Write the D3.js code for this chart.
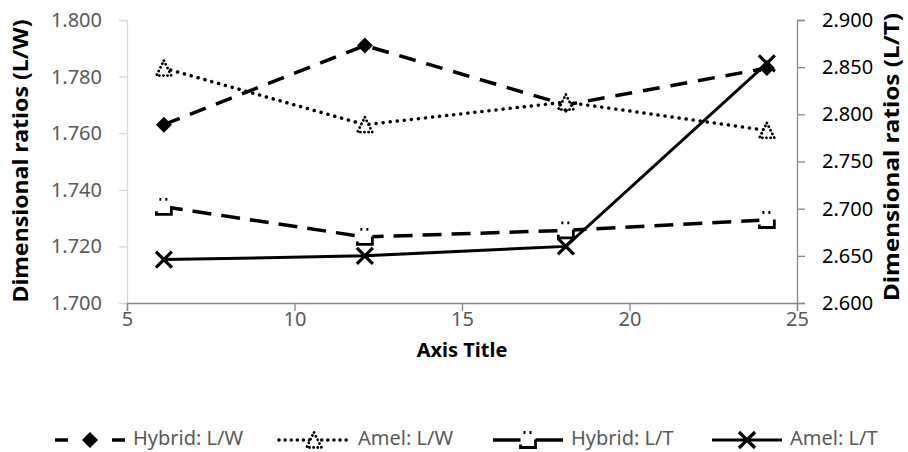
<!DOCTYPE html>
<html>
<head>
<meta charset="utf-8">
<script src="https://cdn.jsdelivr.net/npm/d3@7"></script>
<style>
  body { margin: 0; background: #fff; }
  text { font-family: "Noto Sans", "Open Sans", sans-serif; }
</style>
</head>
<body>
<script>
// values
var hours = [6.1, 12.1, 18.1, 24.1];
var hybridLW = [1.763, 1.791, 1.770, 1.783];
var amelLW   = [1.783, 1.763, 1.771, 1.761];
var hybridLT = [2.702, 2.670, 2.677, 2.688];
var amelLT   = [2.646, 2.650, 2.660, 2.854];

var xTicks = [5, 10, 15, 20, 25];
var leftTicks = [1.700, 1.720, 1.740, 1.760, 1.780, 1.800];
var rightTicks = [2.600, 2.650, 2.700, 2.750, 2.800, 2.850, 2.900];

var seriesNames = ["Hybrid: L/W", "Amel: L/W", "Hybrid: L/T", "Amel: L/T"];

var W = 908, H = 452;
var margins = { top: 20, bottom: 149, left: 127, right: 111 };

var svg = d3.select("body").append("svg")
  .attr("width", W).attr("height", H);

var xscale = d3.scaleLinear().domain([5, 25]).range([margins.left, W - margins.right]);
var yLeft = d3.scaleLinear().domain([1.7, 1.8]).range([H - margins.bottom, margins.top]);
var yRight = d3.scaleLinear().domain([2.6, 2.9]).range([H - margins.bottom, margins.top]);

var tickColor = "#595959";

// left axis (light)
var gl = svg.append("g").attr("transform", "translate(" + margins.left + ",0)")
  .call(d3.axisLeft(yLeft).tickValues(leftTicks).tickFormat(d3.format(".3f")).tickSize(8).tickPadding(17));
gl.select(".domain").attr("stroke", "#d9d9d9").attr("stroke-width", 1.3);
gl.selectAll(".tick line").attr("stroke", "#d9d9d9").attr("stroke-width", 1.3);
gl.selectAll(".tick text").attr("fill", tickColor).style("font-size", "20px");

// right axis
var gr = svg.append("g").attr("transform", "translate(" + (W - margins.right) + ",0)")
  .call(d3.axisRight(yRight).tickValues(rightTicks).tickFormat(d3.format(".3f")).tickSize(8).tickPadding(17));
gr.select(".domain").attr("stroke", "#868686").attr("stroke-width", 1.3);
gr.selectAll(".tick line").attr("stroke", "#868686").attr("stroke-width", 1.3);
gr.selectAll(".tick text").attr("fill", "#000").style("font-size", "20px");

// bottom axis
var gx = svg.append("g").attr("transform", "translate(0," + (H - margins.bottom) + ")")
  .call(d3.axisBottom(xscale).tickValues(xTicks).tickSize(8).tickPadding(1));
gx.select(".domain").attr("stroke", "#868686").attr("stroke-width", 1.3);
gx.selectAll(".tick line").attr("stroke", "#868686").attr("stroke-width", 1.3);
gx.selectAll(".tick text").attr("fill", tickColor).style("font-size", "20px");

// axis titles
svg.append("text")
  .attr("transform", "translate(22,161) rotate(-90)")
  .attr("text-anchor", "middle").attr("dominant-baseline", "middle")
  .style("font-size", "22px").style("font-weight", "bold")
  .attr("textLength", 283).attr("lengthAdjust", "spacingAndGlyphs")
  .text("Dimensional ratios (L/W)");
svg.append("text")
  .attr("transform", "translate(893,157) rotate(-90)")
  .attr("text-anchor", "middle").attr("dominant-baseline", "middle")
  .style("font-size", "22px").style("font-weight", "bold")
  .attr("textLength", 288).attr("lengthAdjust", "spacingAndGlyphs")
  .text("Dimensional ratios (L/T)");
svg.append("text")
  .attr("x", (margins.left + W - margins.right) / 2).attr("y", 352)
  .attr("text-anchor", "middle").attr("dominant-baseline", "middle")
  .style("font-size", "20px").style("font-weight", "bold")
  .text("Axis Title");

// line styles per series
var styles = [
  { dash: "17 11", cap: "butt", width: 3.5 },
  { dash: "0.1 7", cap: "round", width: 3.5 },
  { dash: "19 10", cap: "butt", width: 3.5 },
  { dash: null, cap: "butt", width: 3 }
];
var legendDash = ["13 44 13", "0.1 6", null, null];

var drawMarker = function(g, type) {
  if (type == 0) {
    var s = 8;
    g.append("path").attr("d", "M0," + (-s) + "L" + s + ",0L0," + s + "L" + (-s) + ",0Z")
      .attr("fill", "#000");
  } else if (type == 1) {
    var s = 7.5;
    g.append("path").attr("d", "M0," + (-s) + "L" + s + "," + s + "L" + (-s) + "," + s + "Z")
      .attr("fill", "#fff").attr("stroke", "#000").attr("stroke-width", 2.8)
      .attr("stroke-dasharray", "0.1 4").attr("stroke-linecap", "round");
  } else if (type == 2) {
    var s = 7.5;
    g.append("rect").attr("x", -s).attr("y", -s).attr("width", 2 * s).attr("height", 2 * s)
      .attr("fill", "#fff").attr("stroke", "#000").attr("stroke-width", 2.8)
      .attr("stroke-dasharray", "0 3 2 4 2 11 26 12");
  } else {
    var s = 8;
    g.append("path").attr("d", "M" + (-s) + "," + (-s) + "L" + s + "," + s + "M" + s + "," + (-s) + "L" + (-s) + "," + s)
      .attr("fill", "none").attr("stroke", "#000").attr("stroke-width", 3.2);
  }
};

var allSeries = [
  { vals: hybridLW, y: yLeft },
  { vals: amelLW, y: yLeft },
  { vals: hybridLT, y: yRight },
  { vals: amelLT, y: yRight }
];

allSeries.forEach(function(s, k) {
  var line = d3.line()
    .x(function(d, i) { return xscale(hours[i]); })
    .y(function(d) { return s.y(d); });
  svg.append("path").datum(s.vals)
    .attr("d", line)
    .attr("fill", "none")
    .attr("stroke", "#000")
    .attr("stroke-width", styles[k].width)
    .attr("stroke-linecap", styles[k].cap)
    .attr("stroke-dasharray", styles[k].dash);
  s.vals.forEach(function(d, i) {
    var g = svg.append("g").attr("transform", "translate(" + xscale(hours[i]) + "," + s.y(d) + ")");
    drawMarker(g, k);
  });
});

// legend
var legendX = [55, 279, 493, 712];
var legendY = 440;
seriesNames.forEach(function(name, k) {
  var g = svg.append("g").attr("transform", "translate(" + legendX[k] + "," + legendY + ")");
  g.append("line").attr("x1", 0).attr("x2", 70).attr("y1", 0).attr("y2", 0)
    .attr("stroke", "#000").attr("stroke-width", styles[k].width)
    .attr("stroke-linecap", styles[k].cap)
    .attr("stroke-dasharray", legendDash[k]);
  var m = g.append("g").attr("transform", "translate(35,0)");
  drawMarker(m, k);
  g.append("text").attr("x", k == 1 ? 79 : 78).attr("y", 0)
    .attr("dominant-baseline", "middle").attr("fill", tickColor)
    .style("font-size", "20px").text(name);
});
</script>
</body>
</html>
